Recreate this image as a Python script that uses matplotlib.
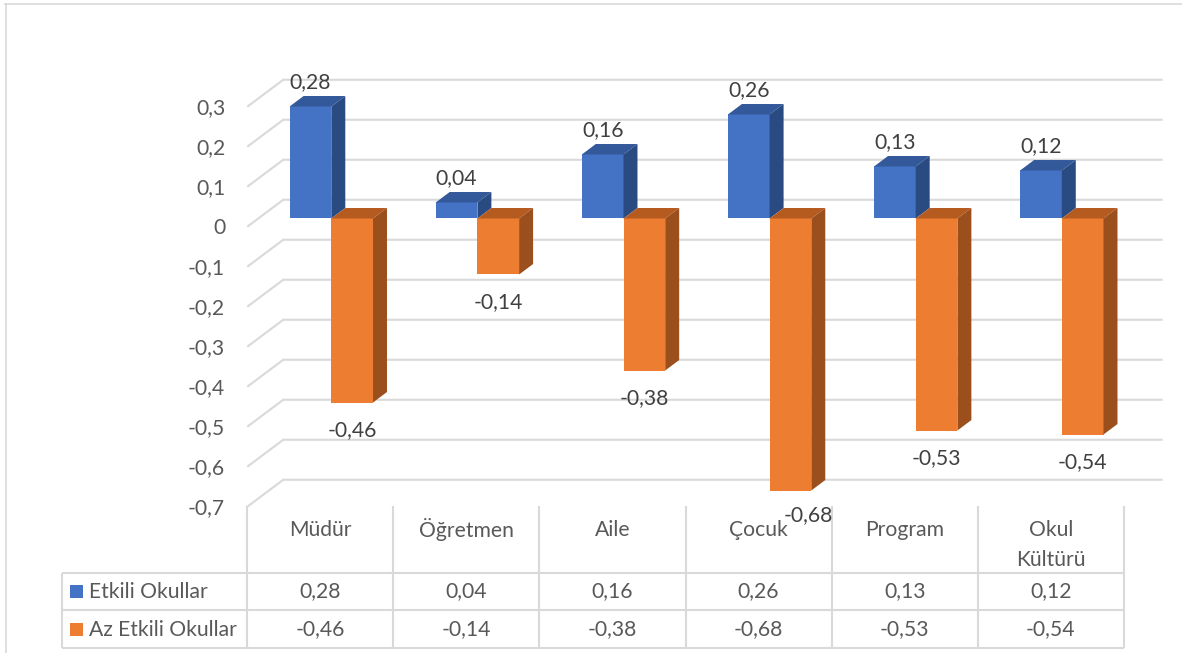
import matplotlib
matplotlib.use("Agg")
import matplotlib.pyplot as plt
from matplotlib.patches import Rectangle, Polygon

# ---- data -------------------------------------------------------------
categories = ["Müdür", "Öğretmen", "Aile", "Çocuk", "Program", "Okul\nKültürü"]
series_names = ["Etkili Okullar", "Az Etkili Okullar"]
etkili = [0.28, 0.04, 0.16, 0.26, 0.13, 0.12]
az_etkili = [-0.46, -0.14, -0.38, -0.68, -0.53, -0.54]
y_ticks = [0.3, 0.2, 0.1, 0.0, -0.1, -0.2, -0.3, -0.4, -0.5, -0.6, -0.7]

series_values = [etkili, az_etkili]

# ---- styling ----------------------------------------------------------
FONT = "Lato"
FS = 15.2
TXT = "#595959"
LBL = "#404040"
GRID = "#d9d9d9"
front_colors = ["#4472C4", "#ED7D31"]
top_colors = ["#34599B", "#B65B20"]
side_colors = ["#2A4A82", "#9A4F1D"]

W, H, DPI = 1182, 653, 100
PX_CAT = 146.1      # pixels per category
PX_VAL = 400.0      # pixels per unit of value
ORIGIN_X = 331.3    # pixel x of first category centre (front plane of bars)
ORIGIN_Y = 218.5    # pixel y of value 0 (front plane of bars)

X0, X1 = -ORIGIN_X / PX_CAT, (W - ORIGIN_X) / PX_CAT
Y0, Y1 = (ORIGIN_Y - H) / PX_VAL, ORIGIN_Y / PX_VAL

# oblique depth of the floor, and where the bars sit inside it
DX, DY = 36 / PX_CAT, 27 / PX_VAL
F0, F1 = 0.3056, 0.694
BDX, BDY = DX * (F1 - F0), DY * (F1 - F0)
BAR_W = 41.7 / PX_CAT


def fx(px):
    return X0 + px / W * (X1 - X0)


def fy(py):
    return Y1 - py / H * (Y1 - Y0)


def fmt(v, nd=2):
    s = f"{v:.{nd}f}".rstrip("0").rstrip(".") if nd == 1 else f"{v:.{nd}f}"
    if s in ("-0", ""):
        s = "0"
    return s.replace(".", ",")


fig = plt.figure(figsize=(W / DPI, H / DPI), dpi=DPI)
ax = fig.add_axes([0, 0, 1, 1])
ax.set_xlim(X0, X1)
ax.set_ylim(Y0, Y1)
ax.axis("off")

n = len(categories)

# chart frame
ax.plot([fx(5), fx(W)], [fy(4.5), fy(4.5)], color=GRID, lw=1.2, zorder=0)
ax.plot([fx(5.5), fx(5.5)], [fy(4.5), fy(H)], color=GRID, lw=1.2, zorder=0)

# back wall and side wall gridlines
xl_front = -0.5 - DX * F0
xl_back = -0.5 + DX * F1
xr_back = n - 0.5 + DX * F1 + 0.02
for v in y_ticks:
    yb = v + DY * F1
    yf = v - DY * F0
    ax.plot([xl_front, xl_back, xr_back], [yf, yb, yb], color=GRID, lw=1.5,
            solid_capstyle="butt", solid_joinstyle="miter", zorder=1)
    ax.text(xl_front - 22 / PX_CAT, yf - 1.5 / PX_VAL, fmt(round(v, 1), 1),
            ha="right", va="center", fontsize=FS, color=TXT, family=FONT)

# 3-D columns
label_nudge = {(1, 3): (13, 2.5)}   # points; keeps one label clear of the table
z = 2
for i in range(n):
    for s, vals in enumerate(series_values):
        v = vals[i]
        x0 = i - BAR_W + s * BAR_W
        x1 = x0 + BAR_W
        top, bot = max(v, 0), min(v, 0)
        ax.add_patch(Rectangle((x0, bot), BAR_W, top - bot, facecolor=front_colors[s],
                               edgecolor="none", zorder=z))
        ax.add_patch(Polygon([(x0, top), (x1, top), (x1 + BDX, top + BDY), (x0 + BDX, top + BDY)],
                             closed=True, facecolor=top_colors[s], edgecolor="none", zorder=z))
        ax.add_patch(Polygon([(x1, bot), (x1, top), (x1 + BDX, top + BDY), (x1 + BDX, bot + BDY)],
                             closed=True, facecolor=side_colors[s], edgecolor="none", zorder=z))
        z += 1
        dxp, dyp = label_nudge.get((s, i), (0, 0))
        off = 17.6 if v >= 0 else -20.2
        ax.annotate(fmt(v), xy=((x0 + x1) / 2, v), xytext=(dxp, off + dyp),
                    textcoords="offset points", ha="center", va="center",
                    fontsize=FS, color=LBL, family=FONT, zorder=50)

# data table
edges = [k - 0.5 - DX * F0 for k in range(n + 1)]
t_top, r1, r2, r3 = 506, 572.5, 610.5, 648.5
for e in edges:
    ax.plot([e, e], [fy(t_top), fy(r3)], color=GRID, lw=1.5, solid_capstyle="butt", zorder=1)
for r in (r1, r2, r3):
    ax.plot([fx(62), edges[-1]], [fy(r), fy(r)], color=GRID, lw=1.5, solid_capstyle="butt", zorder=1)
ax.plot([fx(62), fx(62)], [fy(r1), fy(r3)], color=GRID, lw=1.5, solid_capstyle="butt", zorder=1)

for k, cat in enumerate(categories):
    xc = (edges[k] + edges[k + 1]) / 2
    for j, line in enumerate(cat.split("\n")):
        ax.text(xc, fy(530 + 30 * j), line, ha="center", va="center",
                fontsize=FS, color=TXT, family=FONT)

row_centres = [(r1 + r2) / 2, (r2 + r3) / 2]
for s, (name, vals) in enumerate(zip(series_names, series_values)):
    yc = row_centres[s]
    ax.add_patch(Rectangle((fx(70), fy(yc + 6.5)), fx(83) - fx(70), fy(yc - 6.5) - fy(yc + 6.5),
                           facecolor=front_colors[s], edgecolor="none", zorder=3))
    ax.text(fx(89), fy(yc), name, ha="left", va="center", fontsize=FS, color=TXT, family=FONT)
    for k, v in enumerate(vals):
        xc = (edges[k] + edges[k + 1]) / 2
        ax.text(xc, fy(yc), fmt(v), ha="center", va="center", fontsize=FS, color=TXT, family=FONT)

fig.savefig("out.png", dpi=DPI, facecolor="white")
